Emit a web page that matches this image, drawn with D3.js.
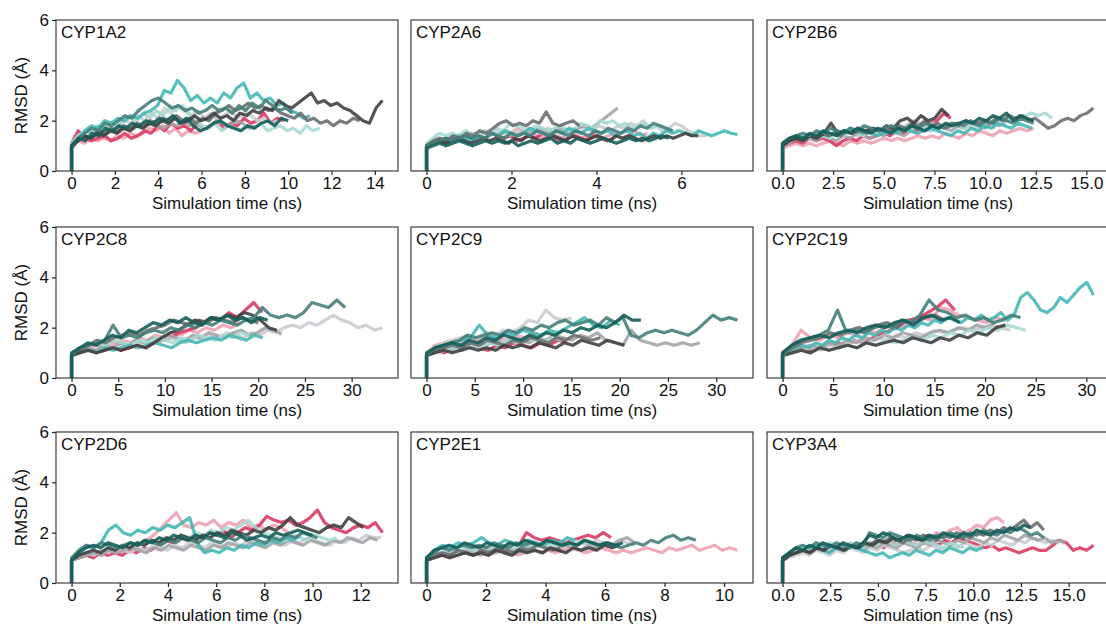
<!DOCTYPE html>
<html>
<head>
<meta charset="utf-8">
<script src="https://cdn.jsdelivr.net/npm/d3@7"></script>
<style>
body { margin: 0; background: #fff; }
text { font-family: "Liberation Sans", Arial, sans-serif; }
</style>
</head>
<body>
<svg id="chart" width="1106" height="625"></svg>
<script>
// enzymes, one panel each
const enzymes = ["CYP1A2", "CYP2A6", "CYP2B6", "CYP2C8", "CYP2C9", "CYP2C19", "CYP2D6", "CYP2E1", "CYP3A4"];
const runs = ["r1", "r2", "r3", "r4", "r5", "r6", "r7", "r8", "r9", "r10"];
const runColors = ["#dc3b63", "#f0a1b3", "#c9ccd0", "#a2a4a7", "#6b6f71", "#404142", "#a6d9d4", "#45b8b5", "#457f7b", "#145e5a"];
const yTicks = [0, 2, 4, 6];
const rmsdAtStart = 0;

// x tick labels per panel
const ticks1A2 = ["0", "2", "4", "6", "8", "10", "12", "14"];
const ticks2A6 = ["0", "2", "4", "6"];
const ticks2B6 = ["0.0", "2.5", "5.0", "7.5", "10.0", "12.5", "15.0"];
const ticks2C8 = ["0", "5", "10", "15", "20", "25", "30"];
const ticks2C9 = ["0", "5", "10", "15", "20", "25", "30"];
const ticks2C19 = ["0", "5", "10", "15", "20", "25", "30"];
const ticks2D6 = ["0", "2", "4", "6", "8", "10", "12"];
const ticks2E1 = ["0", "2", "4", "6", "8", "10"];
const ticks3A4 = ["0.0", "2.5", "5.0", "7.5", "10.0", "12.5", "15.0"];

// RMSD traces (Å), evenly sampled from 0 to tEnd (ns)
const cyp1a2 = [
  {run: "r2", tEnd: 6.0, rmsd: [1.0,1.2,1.1,1.3,1.2,1.3,1.2,1.4,1.3,1.5,1.4,1.5,1.7,1.6,1.8,1.5,1.7,1.4,1.6,1.5,1.6]},
  {run: "r1", tEnd: 9.8, rmsd: [1.1,1.6,1.3,1.2,1.3,1.4,1.2,1.3,1.5,1.3,1.4,1.6,1.5,1.8,1.6,1.9,1.7,1.8,1.6,1.9,1.7,1.8,2.0,1.7,1.9,1.8,2.1,1.9,2.0,2.3,1.9,2.1,2.0]},
  {run: "r3", tEnd: 9.5, rmsd: [1.0,1.3,1.6,1.5,1.7,1.6,1.9,1.8,2.0,1.9,2.2,2.0,2.3,2.1,2.5,2.3,2.6,2.4,2.2,2.4,2.1,2.3,2.0,2.2,2.4,2.1,2.3,2.2,2.0,2.1,1.9,2.0]},
  {run: "r4", tEnd: 8.5, rmsd: [1.0,1.2,1.4,1.3,1.5,1.4,1.6,1.5,1.7,1.6,1.8,1.7,1.9,1.8,1.7,1.9,1.8,2.0,1.8,1.9,1.7,1.8,2.0,1.9,1.8,2.0,1.9,1.7,1.8]},
  {run: "r7", tEnd: 11.45, rmsd: [1.1,1.4,1.6,1.5,1.8,1.7,1.9,1.8,2.0,2.2,2.0,2.3,2.1,2.4,2.2,2.5,2.4,2.6,2.3,2.0,1.8,1.7,1.9,1.6,1.8,1.7,1.6,1.8,1.7,1.9,1.6,1.7,1.8,1.6,1.7,1.5,1.8,1.6,1.7]},
  {run: "r8", tEnd: 11.0, rmsd: [1.0,1.3,1.6,1.8,1.7,2.0,1.9,2.1,2.0,2.2,2.1,2.3,2.4,2.6,3.2,3.1,3.6,3.3,2.8,3.0,2.7,2.9,2.7,3.1,2.9,3.3,3.5,2.9,3.1,2.8,2.9,2.6,2.7,2.4,2.3,2.1,2.2]},
  {run: "r5", tEnd: 13.3, rmsd: [0.9,1.2,1.4,1.3,1.6,1.5,1.7,1.6,1.8,1.7,1.9,1.8,2.0,1.9,2.1,2.0,2.2,2.0,2.1,1.9,2.1,2.0,2.3,2.4,2.6,2.4,2.5,2.7,2.5,2.6,2.4,2.5,2.3,2.2,2.1,2.3,2.0,2.1,1.9,2.0,1.8,2.0,1.9,2.1,2.0]},
  {run: "r6", tEnd: 14.35, rmsd: [1.0,1.2,1.4,1.3,1.5,1.4,1.6,1.5,1.7,1.6,1.8,1.7,1.9,1.8,2.0,1.9,2.1,1.9,2.0,2.2,2.0,2.1,2.3,2.1,2.2,2.0,2.3,2.2,2.4,2.3,2.5,2.4,2.8,2.6,2.5,2.7,2.9,3.1,2.7,2.8,2.6,2.7,2.5,2.4,2.2,2.0,1.9,2.5,2.8]},
  {run: "r9", tEnd: 10.2, rmsd: [1.0,1.3,1.5,1.7,1.6,1.9,1.8,2.0,2.2,2.1,2.4,2.6,2.8,2.9,2.7,2.5,2.6,2.4,2.5,2.3,2.4,2.6,2.4,2.5,2.3,2.6,2.4,2.7,2.5,2.8,2.6,2.4,2.5,2.3]},
  {run: "r10", tEnd: 10.0, rmsd: [1.0,1.3,1.2,1.5,1.4,1.7,1.6,1.8,1.7,1.9,1.8,2.0,1.9,2.1,2.0,2.2,1.9,2.1,1.8,1.6,1.7,1.9,2.0,1.8,1.7,1.6,1.8,1.7,1.9,2.0,1.8,2.1,2.0]}
];

const cyp2a6 = [
  {run: "r2", tEnd: 5.2, rmsd: [1.0,1.1,1.2,1.3,1.2,1.4,1.5,1.3,1.4,1.6,1.5,1.4,1.6,1.5,1.7,1.5,1.6,1.4,1.3,1.5,1.4,1.3,1.5,1.4,1.3,1.4,1.5,1.3,1.4,1.5,1.3,1.4,1.6,1.4,1.5]},
  {run: "r1", tEnd: 4.4, rmsd: [1.0,1.1,1.2,1.1,1.3,1.4,1.5,1.3,1.4,1.3,1.5,1.4,1.3,1.4,1.2,1.3,1.4,1.3,1.5,1.4,1.3,1.2,1.3,1.4,1.3,1.2,1.4,1.3,1.2,1.3]},
  {run: "r3", tEnd: 6.6, rmsd: [1.0,1.2,1.3,1.2,1.4,1.3,1.5,1.4,1.3,1.5,1.4,1.6,1.5,1.4,1.6,1.5,1.7,1.6,1.5,1.7,1.6,1.5,1.4,1.6,1.5,1.7,1.6,1.8,1.7,1.6,1.8,1.7,1.9,1.8,2.0,1.7,1.8,1.6,1.7,1.9,1.8,1.6,1.5,1.4,1.4]},
  {run: "r4", tEnd: 4.5, rmsd: [1.0,1.1,1.3,1.2,1.3,1.4,1.3,1.5,1.4,1.3,1.5,1.4,1.6,1.5,1.4,1.6,1.5,1.7,1.6,1.5,1.7,1.6,1.5,1.7,1.8,1.7,1.9,2.1,2.3,2.5]},
  {run: "r7", tEnd: 5.6, rmsd: [1.1,1.3,1.5,1.4,1.5,1.4,1.6,1.5,1.4,1.6,1.5,1.7,1.6,1.9,1.8,1.7,1.6,1.8,1.7,1.6,1.7,1.8,1.6,1.7,1.9,1.8,1.7,2.0,1.9,2.0,1.8,1.9,1.7,1.8,1.9,1.7,1.8,1.7]},
  {run: "r8", tEnd: 7.32, rmsd: [1.0,1.1,1.2,1.3,1.2,1.4,1.3,1.2,1.4,1.3,1.5,1.4,1.6,1.5,1.4,1.5,1.7,1.6,1.5,1.4,1.6,1.5,1.7,1.6,1.5,1.7,1.6,1.5,1.6,1.4,1.5,1.6,1.4,1.5,1.3,1.5,1.4,1.6,1.5,1.6,1.5,1.4,1.6,1.5,1.4,1.5,1.6,1.5,1.45]},
  {run: "r5", tEnd: 3.6, rmsd: [1.0,1.2,1.3,1.2,1.4,1.3,1.5,1.4,1.6,1.5,1.7,1.9,2.0,1.8,1.9,1.8,2.0,1.9,2.35,1.9,1.8,1.9,2.0,1.8]},
  {run: "r6", tEnd: 6.4, rmsd: [1.0,1.1,1.2,1.1,1.2,1.3,1.2,1.1,1.2,1.3,1.2,1.3,1.2,1.1,1.3,1.2,1.4,1.3,1.2,1.3,1.4,1.3,1.2,1.4,1.3,1.2,1.3,1.4,1.3,1.2,1.4,1.3,1.4,1.3,1.2,1.3,1.4,1.3,1.4,1.3,1.4,1.5,1.4,1.4]},
  {run: "r9", tEnd: 5.8, rmsd: [1.0,1.1,1.2,1.3,1.2,1.3,1.4,1.3,1.4,1.3,1.5,1.4,1.3,1.5,1.4,1.5,1.4,1.6,1.5,1.4,1.6,1.5,1.4,1.6,1.5,1.4,1.6,1.5,1.7,1.6,1.5,1.7,1.6,1.8,1.7,1.9,1.8,1.7,1.6]},
  {run: "r10", tEnd: 5.7, rmsd: [0.9,1.0,1.1,1.0,1.1,1.2,1.1,1.0,1.1,1.2,1.1,1.2,1.1,1.2,1.0,1.1,1.2,1.1,1.2,1.3,1.1,1.2,1.1,1.3,1.2,1.1,1.2,1.3,1.2,1.1,1.2,1.3,1.2,1.3,1.2,1.3,1.4,1.3]}
];

const cyp2b6 = [
  {run: "r2", tEnd: 12.4, rmsd: [0.9,1.0,1.1,1.0,1.1,1.0,1.1,1.2,1.1,1.0,1.2,1.1,1.2,1.1,1.2,1.3,1.2,1.3,1.2,1.3,1.4,1.3,1.4,1.3,1.5,1.4,1.3,1.5,1.4,1.6,1.5,1.4,1.6,1.5,1.6,1.7,1.6,1.7]},
  {run: "r1", tEnd: 8.3, rmsd: [1.0,1.1,1.2,1.1,1.3,1.2,1.3,1.2,1.0,1.2,1.3,1.2,1.4,1.3,1.4,1.5,1.4,1.6,1.5,1.7,1.6,1.8,1.9,2.0,2.3,2.1]},
  {run: "r3", tEnd: 10.5, rmsd: [1.0,1.2,1.3,1.2,1.4,1.3,1.4,1.5,1.4,1.6,1.5,1.4,1.6,1.5,1.7,1.6,1.5,1.7,1.8,2.0,1.9,1.8,1.9,1.7,1.8,1.9,1.7,1.8,1.7,1.9,1.8,1.7]},
  {run: "r4", tEnd: 11.0, rmsd: [1.0,1.1,1.3,1.2,1.3,1.2,1.4,1.3,1.2,1.4,1.3,1.5,1.4,1.3,1.5,1.4,1.6,1.5,1.4,1.6,1.5,1.7,1.6,1.8,1.7,1.6,1.8,1.7,1.9,1.8,1.7,1.9,1.8,1.9]},
  {run: "r7", tEnd: 13.3, rmsd: [1.0,1.2,1.3,1.4,1.3,1.5,1.4,1.3,1.5,1.4,1.6,1.5,1.4,1.6,1.5,1.7,1.6,1.5,1.7,1.6,1.8,1.7,1.6,1.8,1.7,1.9,1.8,1.7,1.9,1.8,2.0,1.9,2.1,2.0,2.1,2.0,2.2,2.3,2.2,2.3,2.1]},
  {run: "r8", tEnd: 12.3, rmsd: [1.0,1.2,1.3,1.2,1.4,1.3,1.5,1.4,1.6,1.5,1.7,1.6,1.5,1.6,1.4,1.5,1.6,1.5,1.7,1.6,1.5,1.6,1.7,1.6,1.5,1.4,1.6,1.5,1.7,1.6,1.8,1.7,1.9,1.8,1.7,1.9,1.8,1.7]},
  {run: "r5", tEnd: 15.35, rmsd: [1.0,1.2,1.3,1.2,1.4,1.3,1.5,1.4,1.5,1.4,1.6,1.5,1.6,1.5,1.7,1.6,1.7,1.6,1.8,1.7,1.9,1.8,2.0,1.8,1.9,1.7,1.8,1.9,1.8,2.0,1.9,2.0,1.9,2.1,2.0,2.2,2.1,2.2,2.0,2.1,1.9,1.7,1.8,2.0,2.1,2.0,2.2,2.3,2.5]},
  {run: "r6", tEnd: 8.2, rmsd: [1.0,1.2,1.3,1.2,1.4,1.3,1.5,1.9,1.5,1.6,1.5,1.7,1.6,1.7,1.6,1.8,1.7,2.0,2.1,1.9,2.2,2.0,2.1,2.45,2.2]},
  {run: "r9", tEnd: 12.4, rmsd: [1.1,1.3,1.4,1.5,1.4,1.6,1.5,1.7,1.6,1.5,1.7,1.6,1.8,1.7,1.6,1.7,1.8,1.7,1.6,1.8,1.7,1.9,1.8,1.7,1.8,1.9,1.8,2.0,1.9,1.8,2.0,1.9,2.1,2.0,1.9,2.1,2.0,1.9]},
  {run: "r10", tEnd: 12.4, rmsd: [1.1,1.3,1.4,1.3,1.5,1.4,1.6,1.5,1.4,1.6,1.5,1.7,1.6,1.5,1.7,1.6,1.5,1.7,1.6,1.8,1.7,1.6,1.8,1.7,1.9,1.8,1.9,2.0,1.9,2.1,2.0,2.2,2.1,2.3,2.0,2.2,2.1,2.0]}
];

const cyp2c8 = [
  {run: "r2", tEnd: 18.0, rmsd: [0.9,1.1,1.2,1.3,1.2,1.4,1.5,1.4,1.6,1.5,1.7,1.6,1.8,1.7,1.9,1.8,2.0,1.9,2.1,2.0,2.2]},
  {run: "r1", tEnd: 20.4, rmsd: [0.9,1.0,1.1,1.0,1.1,1.2,1.1,1.2,1.3,1.2,1.4,1.5,1.6,1.8,1.9,2.0,2.2,2.4,2.3,2.6,2.4,2.7,3.0,2.6]},
  {run: "r3", tEnd: 33.3, rmsd: [0.9,1.1,1.2,1.1,1.3,1.2,1.3,1.4,1.3,1.5,1.4,1.5,1.6,1.5,1.4,1.6,1.5,1.7,1.6,1.8,1.7,1.6,1.8,1.7,1.9,1.8,2.0,2.1,2.0,2.2,2.1,2.3,2.5,2.3,2.2,2.0,2.1,1.9,2.0]},
  {run: "r4", tEnd: 22.5, rmsd: [0.9,1.1,1.2,1.1,1.3,1.2,1.4,1.3,1.5,1.4,1.6,1.5,1.7,1.6,1.5,1.7,1.6,1.8,1.7,1.6,1.8,1.9,1.7,1.8,2.0,1.9,1.75]},
  {run: "r7", tEnd: 19.0, rmsd: [1.0,1.2,1.3,1.4,1.3,1.5,1.4,1.3,1.5,1.4,1.6,1.5,1.4,1.6,1.5,1.7,1.6,1.5,1.7,1.6,1.8,1.7]},
  {run: "r8", tEnd: 20.5, rmsd: [0.9,1.0,1.1,1.0,1.2,1.1,1.2,1.3,1.2,1.3,1.4,1.3,1.2,1.4,1.5,1.4,1.5,1.6,1.5,1.7,1.6,1.5,1.7,1.6]},
  {run: "r5", tEnd: 20.0, rmsd: [0.9,1.1,1.3,1.5,1.4,1.6,1.7,1.8,1.7,1.9,2.0,2.1,2.3,2.2,2.1,2.3,2.2,2.4,2.3,2.2,2.4,2.3,2.2]},
  {run: "r6", tEnd: 22.0, rmsd: [0.9,1.0,1.1,1.0,1.1,1.2,1.1,1.2,1.3,1.2,1.4,1.6,1.8,1.9,2.1,2.3,2.2,2.4,2.3,2.5,2.4,2.6,2.5,2.3,2.0,1.9]},
  {run: "r9", tEnd: 29.3, rmsd: [0.9,1.2,1.3,1.4,1.5,2.1,1.6,1.7,1.6,1.8,1.9,1.8,2.0,1.9,2.1,2.0,2.2,2.1,2.3,2.2,2.1,2.3,2.4,2.8,2.5,2.4,2.5,2.4,2.6,3.0,2.9,2.8,3.1,2.8]},
  {run: "r10", tEnd: 21.0, rmsd: [1.0,1.2,1.4,1.3,1.5,1.7,1.6,1.9,1.8,2.0,2.2,2.1,2.3,2.2,2.4,2.2,2.1,2.4,2.3,2.5,2.3,2.4,2.2,2.4,2.3]}
];

const cyp2c9 = [
  {run: "r2", tEnd: 12.0, rmsd: [1.0,1.3,1.4,1.5,1.4,1.6,1.5,1.7,1.6,1.5,1.7,1.6,1.8,1.7]},
  {run: "r1", tEnd: 14.5, rmsd: [0.9,1.1,1.0,1.2,1.1,1.3,1.2,1.1,1.3,1.2,1.4,1.3,1.2,1.4,1.3,1.5,1.4]},
  {run: "r3", tEnd: 15.0, rmsd: [1.0,1.2,1.4,1.5,1.6,1.7,1.6,1.8,1.7,1.9,1.8,2.0,2.3,2.2,2.7,2.4,2.3,2.4]},
  {run: "r4", tEnd: 28.3, rmsd: [0.9,1.1,1.2,1.1,1.3,1.2,1.4,1.3,1.5,1.4,1.6,1.5,1.4,1.6,1.5,1.7,1.6,1.5,1.7,1.6,1.8,1.5,1.4,1.3,1.9,1.5,1.4,1.3,1.4,1.3,1.4,1.3,1.4]},
  {run: "r7", tEnd: 14.0, rmsd: [0.9,1.0,1.1,1.2,1.1,1.3,1.2,1.4,1.3,1.5,1.4,1.6,1.5,1.4,1.6,1.5]},
  {run: "r8", tEnd: 20.0, rmsd: [0.9,1.2,1.3,1.4,1.5,1.6,2.1,1.7,1.6,1.8,1.7,1.9,1.8,1.7,1.9,1.8,2.0,2.2,2.4,2.1,2.0,2.3,2.1]},
  {run: "r5", tEnd: 18.0, rmsd: [0.9,1.1,1.2,1.3,1.2,1.4,1.3,1.5,1.4,1.3,1.5,1.4,1.6,1.5,1.4,1.6,1.5,1.7,1.6,1.5,1.6]},
  {run: "r6", tEnd: 20.5, rmsd: [0.9,1.0,1.1,1.0,1.1,1.2,1.1,1.2,1.1,1.3,1.2,1.3,1.2,1.4,1.3,1.2,1.4,1.3,1.5,1.4,1.3,1.5,1.4,1.3]},
  {run: "r9", tEnd: 32.2, rmsd: [0.9,1.2,1.3,1.4,1.5,1.7,1.6,1.7,1.8,1.7,1.9,1.8,2.0,1.9,2.1,2.0,2.2,2.3,2.1,2.2,2.3,2.1,2.4,2.2,2.4,1.7,1.6,1.8,1.9,1.8,1.9,1.8,1.7,1.9,2.2,2.5,2.3,2.4,2.3]},
  {run: "r10", tEnd: 22.2, rmsd: [1.0,1.2,1.3,1.4,1.3,1.5,1.4,1.6,1.5,1.7,1.6,1.5,1.7,1.6,1.8,1.7,1.9,1.8,2.0,1.9,2.1,2.0,2.2,2.5,2.3,2.3]}
];

const cyp2c19 = [
  {run: "r2", tEnd: 22.0, rmsd: [1.0,1.3,1.9,1.6,1.5,1.7,1.6,1.8,1.7,1.9,1.8,2.0,2.1,2.0,2.2,2.4,2.3,2.8,2.7,2.5,2.4,2.3,2.2,2.4,2.3]},
  {run: "r1", tEnd: 17.0, rmsd: [0.9,1.1,1.2,1.1,1.2,1.3,1.4,1.3,1.5,1.4,1.6,1.8,1.9,2.1,2.3,2.4,2.6,2.8,3.1,2.7]},
  {run: "r3", tEnd: 22.5, rmsd: [0.9,1.0,1.1,1.2,1.1,1.3,1.2,1.4,1.5,1.4,1.6,1.5,1.7,1.6,1.8,1.7,1.9,1.8,1.9,2.0,1.9,2.0,2.1,2.0,1.9]},
  {run: "r4", tEnd: 21.0, rmsd: [0.9,1.1,1.2,1.3,1.2,1.4,1.3,1.5,1.4,1.6,1.5,1.7,1.6,1.8,1.7,1.6,1.8,1.9,1.8,2.0,1.9,2.1,2.0,2.2]},
  {run: "r7", tEnd: 24.0, rmsd: [0.9,1.0,1.1,1.0,1.2,1.1,1.2,1.3,1.2,1.4,1.3,1.5,1.4,1.5,1.6,1.5,1.7,1.6,1.8,1.7,1.9,1.8,2.0,1.9,2.1,2.0,1.9]},
  {run: "r8", tEnd: 30.7, rmsd: [0.9,1.1,1.2,1.3,1.2,1.4,1.3,1.5,1.4,1.6,1.5,1.7,1.6,1.8,1.7,1.9,1.8,2.0,1.9,2.1,2.0,2.2,2.1,2.3,2.2,2.4,2.3,2.2,2.4,2.3,2.5,2.3,2.4,2.6,2.3,2.5,3.2,3.4,3.1,2.7,2.6,2.8,3.2,3.0,3.3,3.6,3.8,3.3]},
  {run: "r5", tEnd: 16.0, rmsd: [1.0,1.2,1.4,1.5,1.6,1.8,1.7,1.9,2.0,1.9,2.1,2.2,2.0,2.3,2.2,2.4,2.5,2.3]},
  {run: "r6", tEnd: 22.0, rmsd: [0.9,1.0,1.1,1.0,1.2,1.1,1.2,1.3,1.2,1.4,1.3,1.4,1.5,1.4,1.6,1.5,1.4,1.6,1.5,1.7,1.6,1.8,1.7,2.0,2.1]},
  {run: "r9", tEnd: 23.5, rmsd: [0.9,1.3,1.5,1.6,1.7,1.9,2.7,1.8,1.9,1.8,2.0,2.1,2.0,2.3,2.2,2.5,3.1,2.7,2.6,2.4,2.5,2.3,2.4,2.2,2.3,2.5,2.4]},
  {run: "r10", tEnd: 17.5, rmsd: [1.0,1.3,1.5,1.6,1.7,1.6,1.8,1.9,1.8,2.0,2.1,2.0,2.2,2.3,2.1,2.4,2.5,2.3,2.4,2.2]}
];

const cyp2d6 = [
  {run: "r2", tEnd: 9.0, rmsd: [0.9,1.0,1.1,1.2,1.1,1.3,1.2,1.4,1.3,1.5,1.7,1.9,2.2,2.5,2.8,2.3,2.2,2.4,2.3,2.5,2.2,2.4,2.3,2.5,2.2,2.3,2.1,2.3,2.2,2.0]},
  {run: "r1", tEnd: 12.9, rmsd: [0.9,1.0,1.1,1.0,1.2,1.1,1.2,1.1,1.3,1.2,1.4,1.3,1.5,1.7,1.6,1.8,1.7,1.9,1.8,2.0,1.9,2.1,1.8,2.0,2.2,2.1,2.3,2.65,2.5,2.4,2.5,2.3,2.4,2.6,2.9,2.4,2.2,2.1,2.0,2.2,2.3,2.2,2.4,2.0]},
  {run: "r3", tEnd: 12.85, rmsd: [0.9,1.1,1.2,1.1,1.3,1.2,1.4,1.3,1.2,1.4,1.3,1.5,1.4,1.3,1.5,1.4,1.6,1.5,1.4,1.6,1.5,1.4,1.6,1.5,1.7,1.6,1.5,1.7,1.6,1.5,1.7,1.6,1.8,1.7,1.6,1.5,1.7,1.6,1.8,1.7,1.9,1.8,1.8]},
  {run: "r4", tEnd: 12.7, rmsd: [0.9,1.0,1.1,1.2,1.1,1.3,1.2,1.3,1.4,1.3,1.2,1.4,1.3,1.5,1.4,1.3,1.5,1.4,1.3,1.5,1.4,1.6,1.5,1.4,1.6,1.5,1.4,1.6,1.5,1.7,1.6,1.5,1.7,1.6,1.5,1.7,1.6,1.8,1.7,1.6,1.8,1.7]},
  {run: "r7", tEnd: 11.0, rmsd: [0.9,1.1,1.2,1.3,1.2,1.4,1.3,1.5,1.4,1.6,1.5,1.7,1.6,1.8,1.7,1.9,1.8,2.0,1.9,2.1,2.0,2.2,2.1,2.3,2.5,2.2,2.0,1.9,1.8,1.7,1.9,1.8,1.7,1.9,1.8,1.7,1.8]},
  {run: "r8", tEnd: 9.5, rmsd: [0.9,1.3,1.5,1.4,1.6,2.1,2.3,2.0,1.9,2.1,2.0,2.2,2.1,2.3,2.2,2.4,2.6,1.6,1.2,1.3,1.2,1.4,1.3,1.5,1.4,1.6,1.5,1.7,1.6,1.8,1.7,1.9]},
  {run: "r6", tEnd: 12.1, rmsd: [0.9,1.1,1.2,1.3,1.2,1.4,1.3,1.5,1.4,1.6,1.5,1.7,1.6,1.8,1.7,1.9,1.8,1.7,1.9,1.8,2.0,1.9,2.1,2.0,1.9,2.1,2.0,2.2,2.1,2.3,2.6,2.3,2.2,2.1,2.0,2.2,2.3,2.2,2.6,2.4,2.2]},
  {run: "r9", tEnd: 10.2, rmsd: [1.0,1.3,1.5,1.4,1.6,1.5,1.4,1.5,1.6,1.5,1.7,1.6,1.5,1.7,1.6,1.8,1.7,1.6,1.8,1.7,1.6,1.8,1.7,1.9,1.8,1.7,1.6,1.8,1.7,1.9,1.8,2.0,1.9,1.8]},
  {run: "r10", tEnd: 10.0, rmsd: [0.9,1.2,1.4,1.5,1.4,1.6,1.5,1.4,1.6,1.5,1.7,1.6,1.8,1.7,1.9,1.8,1.7,1.9,1.8,2.0,1.9,1.8,2.0,1.9,1.7,1.8,1.9,1.8,2.0,1.9,2.0,2.1,2.0,1.9]}
];

const cyp2e1 = [
  {run: "r2", tEnd: 10.45, rmsd: [0.9,1.0,1.1,1.0,1.1,1.2,1.1,1.2,1.1,1.2,1.3,1.2,1.1,1.2,1.3,1.2,1.3,1.2,1.3,1.4,1.3,1.2,1.3,1.4,1.3,1.2,1.3,1.2,1.3,1.4,1.3,1.2,1.4,1.3,1.4,1.5,1.3,1.4,1.5,1.3,1.4,1.3]},
  {run: "r1", tEnd: 6.2, rmsd: [0.9,1.1,1.2,1.1,1.3,1.2,1.4,1.3,1.4,1.5,1.4,1.6,1.5,2.0,1.8,1.7,1.8,1.7,1.6,1.7,1.8,1.9,1.8,2.0,1.8]},
  {run: "r3", tEnd: 7.0, rmsd: [0.9,1.1,1.2,1.3,1.2,1.4,1.3,1.4,1.3,1.5,1.4,1.3,1.5,1.4,1.6,1.5,1.4,1.6,1.5,1.7,1.6,1.5,1.7,1.6,1.5,1.7,1.6,1.5]},
  {run: "r4", tEnd: 7.0, rmsd: [0.9,1.0,1.1,1.2,1.1,1.3,1.2,1.1,1.3,1.2,1.4,1.3,1.2,1.4,1.3,1.2,1.4,1.3,1.5,1.4,1.3,1.5,1.4,1.6,1.5,1.7,1.8,1.6]},
  {run: "r7", tEnd: 5.5, rmsd: [0.9,1.1,1.2,1.3,1.2,1.4,1.3,1.2,1.4,1.3,1.5,1.4,1.3,1.5,1.4,1.6,1.5,1.4,1.6,1.5,1.7,1.6]},
  {run: "r8", tEnd: 5.0, rmsd: [1.0,1.3,1.5,1.4,1.6,1.5,1.6,1.8,1.6,1.5,1.7,1.6,1.5,1.7,1.6,1.5,1.7,1.6,1.8,1.7]},
  {run: "r5", tEnd: 4.5, rmsd: [0.9,1.1,1.2,1.1,1.3,1.2,1.1,1.3,1.2,1.4,1.3,1.2,1.4,1.3,1.5,1.4,1.3,1.4]},
  {run: "r6", tEnd: 6.5, rmsd: [0.9,1.0,1.1,1.0,1.1,1.2,1.1,1.2,1.1,1.3,1.2,1.1,1.3,1.2,1.3,1.2,1.4,1.3,1.2,1.4,1.3,1.4,1.3,1.5,1.4,1.5]},
  {run: "r9", tEnd: 9.05, rmsd: [1.0,1.2,1.4,1.3,1.4,1.5,1.4,1.5,1.4,1.6,1.5,1.4,1.6,1.5,1.6,1.5,1.7,1.6,1.5,1.6,1.5,1.7,1.6,1.5,1.6,1.5,1.4,1.5,1.6,1.5,1.7,1.6,1.8,1.9,1.7,1.8,1.7]},
  {run: "r10", tEnd: 6.6, rmsd: [1.0,1.3,1.4,1.5,1.4,1.6,1.5,1.4,1.6,1.5,1.4,1.6,1.5,1.7,1.6,1.5,1.7,1.6,1.5,1.6,1.5,1.7,1.6,1.5,1.6,1.5,1.6]}
];

const cyp3a4 = [
  {run: "r2", tEnd: 11.6, rmsd: [0.9,1.1,1.2,1.3,1.2,1.4,1.3,1.5,1.4,1.3,1.5,1.4,1.6,1.5,1.7,1.6,1.5,1.7,1.6,1.8,1.7,1.9,1.8,2.0,1.9,2.1,2.2,2.0,2.1,2.3,2.2,2.5,2.6,2.4]},
  {run: "r1", tEnd: 16.3, rmsd: [0.9,1.1,1.2,1.3,1.2,1.4,1.3,1.2,1.4,1.3,1.4,1.5,1.4,1.6,1.5,1.4,1.6,1.5,1.7,1.6,1.5,1.7,1.6,1.5,1.7,1.6,1.8,1.7,1.6,1.5,1.4,1.5,1.3,1.4,1.3,1.2,1.3,1.4,1.3,1.3,1.5,1.7,1.6,1.3,1.4,1.3,1.5]},
  {run: "r3", tEnd: 14.5, rmsd: [0.9,1.0,1.1,1.2,1.1,1.3,1.2,1.1,1.3,1.2,1.4,1.3,1.2,1.4,1.3,1.5,1.4,1.3,1.2,1.3,1.4,1.3,1.5,1.4,1.3,1.5,1.4,1.6,1.5,1.4,1.6,1.5,1.7,1.6,1.5,1.7,1.6,1.8,1.7,1.6,1.7,1.6]},
  {run: "r4", tEnd: 14.8, rmsd: [0.9,1.1,1.2,1.3,1.2,1.4,1.3,1.2,1.4,1.3,1.5,1.4,1.3,1.5,1.4,1.6,1.5,1.4,1.6,1.5,1.4,1.6,1.5,1.7,1.6,1.5,1.7,1.6,1.8,1.7,1.6,1.8,1.7,1.9,1.8,1.7,1.9,1.8,1.7,1.8,1.6,1.7,1.6]},
  {run: "r7", tEnd: 9.5, rmsd: [0.9,1.1,1.3,1.4,1.3,1.5,1.4,1.6,1.5,1.4,1.6,1.5,1.4,1.6,1.5,1.7,1.6,1.5,1.7,1.6,1.5,1.7,1.6,1.5,1.4,1.6,1.5,1.4]},
  {run: "r8", tEnd: 10.5, rmsd: [0.9,1.1,1.2,1.3,1.2,1.4,1.3,1.2,1.4,1.3,1.5,1.4,1.3,1.2,1.1,1.2,1.0,1.1,1.2,1.1,1.3,1.2,1.1,1.3,1.2,1.4,1.3,1.2,1.4,1.3,1.4]},
  {run: "r5", tEnd: 13.7, rmsd: [0.9,1.1,1.2,1.3,1.2,1.4,1.3,1.5,1.4,1.3,1.5,1.4,1.6,1.5,1.7,1.6,1.8,1.7,1.6,1.8,1.7,1.9,1.8,1.7,1.9,1.8,2.0,1.9,1.8,2.0,1.9,2.1,2.0,2.2,2.1,2.3,2.5,2.2,2.4,2.1]},
  {run: "r6", tEnd: 8.0, rmsd: [0.9,1.1,1.2,1.3,1.2,1.4,1.3,1.5,1.4,1.3,1.5,1.4,1.6,1.5,1.7,1.6,1.8,1.7,1.9,1.8,1.7,1.9,1.8]},
  {run: "r9", tEnd: 13.7, rmsd: [1.0,1.2,1.4,1.5,1.4,1.6,1.5,1.4,1.6,1.5,1.4,1.6,1.5,2.0,1.9,1.8,2.0,1.9,1.8,1.7,1.9,1.8,1.7,1.9,1.8,2.0,1.9,1.8,2.0,1.9,2.1,2.0,1.9,2.1,2.0,2.2,2.1,1.9,2.0,1.8]},
  {run: "r10", tEnd: 13.0, rmsd: [1.0,1.2,1.4,1.3,1.5,1.4,1.6,1.5,1.4,1.6,1.5,1.4,1.6,1.9,1.8,2.0,1.9,1.7,1.8,1.9,1.8,1.7,1.9,1.8,2.0,1.9,1.8,2.0,1.9,2.1,2.0,1.9,2.1,2.0,2.2,2.1,2.3,2.2]}
];

const panelSeries = [cyp1a2, cyp2a6, cyp2b6, cyp2c8, cyp2c9, cyp2c19, cyp2d6, cyp2e1, cyp3a4];
const panelTicks = [ticks1A2, ticks2A6, ticks2B6, ticks2C8, ticks2C9, ticks2C19, ticks2D6, ticks2E1, ticks3A4];

const colLeft = [56, 411, 767];
const rowTop = [20, 227, 432];
const pw = 342, ph = 151;
const fontSize = 17;

const svg = d3.select("#chart");
const color = d3.scaleOrdinal().domain(runs).range(runColors);
const y = d3.scaleLinear().domain([0, 6]).range([ph, 0]);

enzymes.forEach((name, k) => {
    const series = panelSeries[k];
    const ticks = panelTicks[k];
    const tMax = d3.max(series, s => s.tEnd);
    // matplotlib-like 5% margins on the time axis
    const x = d3.scaleLinear()
        .domain([-0.05 * tMax, 1.05 * tMax])
        .range([0, pw]);

    const g = svg.append("g")
        .attr("transform", `translate(${colLeft[k % 3]}, ${rowTop[Math.floor(k / 3)]})`);

    const line = d3.line()
        .x(d => x(d.t))
        .y(d => y(d.v));

    series.forEach(s => {
        const dt = s.tEnd / (s.rmsd.length - 1);
        const pts = [{t: 0, v: rmsdAtStart}].concat(s.rmsd.map((v, i) => ({t: i * dt, v: v})));
        g.append("path")
            .datum(pts)
            .attr("d", line)
            .attr("fill", "none")
            .attr("stroke", color(s.run))
            .attr("stroke-width", 3.2)
            .attr("stroke-opacity", 0.9)
            .attr("stroke-linejoin", "round");
    });

    g.append("rect")
        .attr("width", pw)
        .attr("height", ph)
        .attr("fill", "none")
        .attr("stroke", "#3c3c3c")
        .attr("stroke-width", 1.2);

    const xAxis = g.append("g")
        .attr("transform", `translate(0, ${ph})`)
        .call(d3.axisBottom(x)
            .tickValues(ticks.map(Number))
            .tickFormat((d, i) => ticks[i])
            .tickSize(4)
            .tickPadding(2)
            .tickSizeOuter(0));
    xAxis.select(".domain").remove();
    xAxis.selectAll("line").attr("stroke", "#222").attr("stroke-width", 1.2);
    xAxis.selectAll("text")
        .attr("font-size", fontSize)
        .attr("font-family", '"Liberation Sans", Arial, sans-serif')
        .attr("fill", "#111");

    g.append("text")
        .attr("x", pw / 2)
        .attr("y", ph + 38)
        .attr("text-anchor", "middle")
        .attr("font-size", fontSize)
        .attr("fill", "#111")
        .text("Simulation time (ns)");

    if (k % 3 === 0) {
        const yAxis = g.append("g")
            .call(d3.axisLeft(y)
                .tickValues(yTicks)
                .tickFormat(d3.format("d"))
                .tickSize(4)
                .tickPadding(3)
                .tickSizeOuter(0));
        yAxis.select(".domain").remove();
        yAxis.selectAll("line").attr("stroke", "#222").attr("stroke-width", 1.2);
        yAxis.selectAll("text")
            .attr("font-size", fontSize)
            .attr("font-family", '"Liberation Sans", Arial, sans-serif')
            .attr("fill", "#111");

        g.append("text")
            .attr("transform", `translate(-29, ${ph / 2}) rotate(-90)`)
            .attr("text-anchor", "middle")
            .attr("font-size", fontSize)
            .attr("fill", "#111")
            .text("RMSD (Å)");
    }

    g.append("text")
        .attr("x", 5)
        .attr("y", 18)
        .attr("font-size", fontSize)
        .attr("fill", "#111")
        .text(name);
});
</script>
</body>
</html>
